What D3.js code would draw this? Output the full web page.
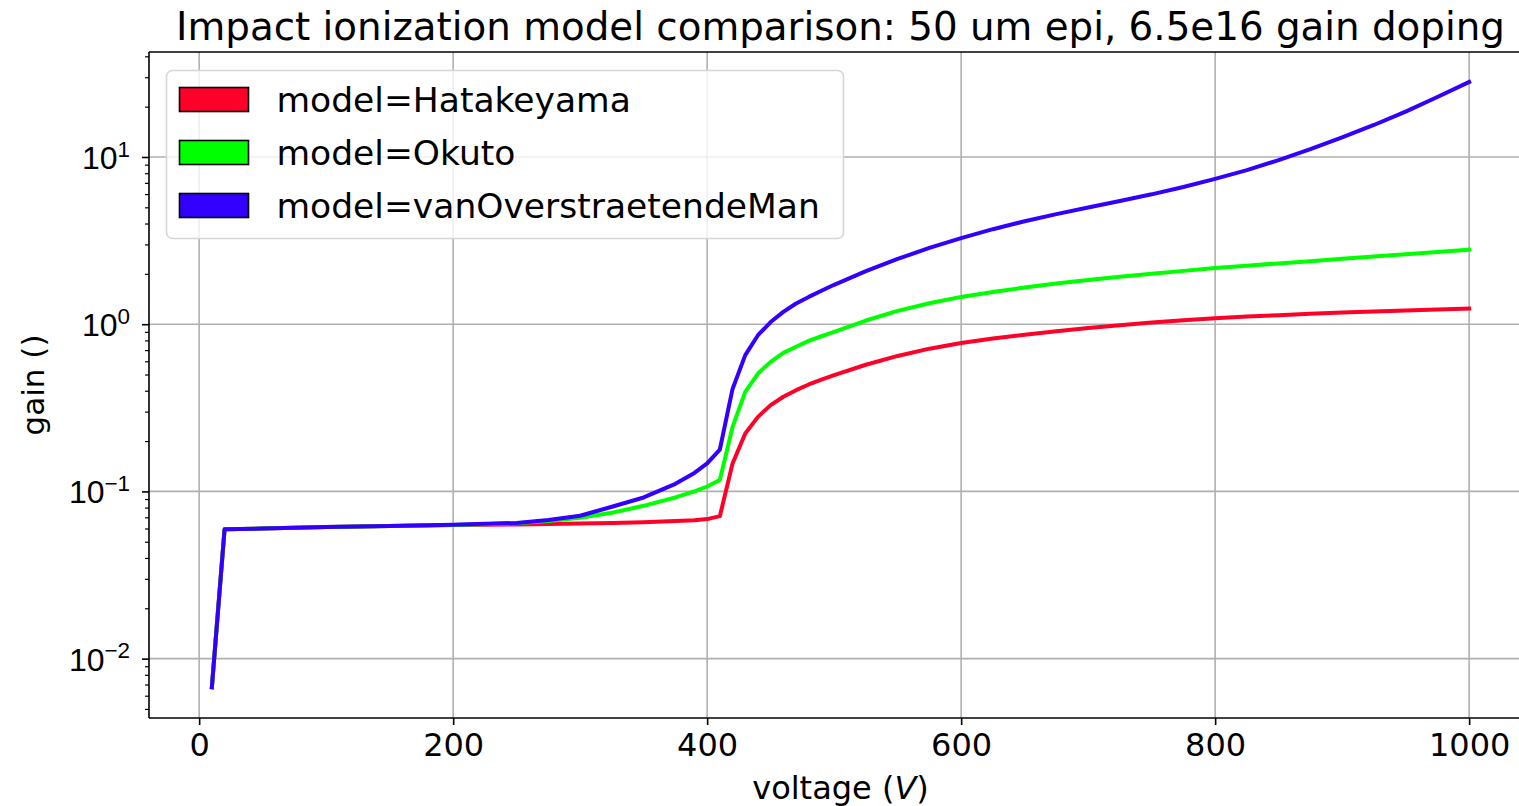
<!DOCTYPE html>
<html>
<head>
<meta charset="utf-8">
<script src="https://cdn.jsdelivr.net/npm/d3@7"></script>
<style>
  html, body { margin: 0; padding: 0; background: #fff; }
  svg { display: block; font-family: "DejaVu Sans", sans-serif; }
</style>
</head>
<body>
<svg id="chart" width="1519" height="806"></svg>
<script>
// Bias voltage sweep (V)
const voltage = [10, 20, 50, 100, 150, 200, 250, 275, 300, 325, 350, 375, 390, 400, 410,
  420, 430, 440, 450, 460, 470, 480, 490, 500, 525, 550, 575, 600, 625, 650, 675, 700,
  725, 750, 775, 800, 825, 850, 875, 900, 925, 950, 975, 1000];

// Gain per impact ionization model
const gainHatakeyama = [0.00674, 0.0593, 0.0600, 0.0612, 0.0620, 0.0629,
  0.0635, 0.0638, 0.0642, 0.0648, 0.0655, 0.0665, 0.0672, 0.0683, 0.0711,
  0.147, 0.222, 0.279, 0.328, 0.368, 0.403, 0.436, 0.466, 0.496,
  0.572, 0.646, 0.714, 0.772, 0.820, 0.865, 0.908, 0.949,
  0.987, 1.022, 1.055, 1.085, 1.110, 1.133, 1.154, 1.174, 1.192, 1.209, 1.226, 1.242];
const gainOkuto = [0.00674, 0.0593, 0.0600, 0.0612, 0.0620, 0.0630,
  0.0645, 0.0665, 0.0695, 0.0745, 0.0820, 0.0920, 0.100, 0.107, 0.117,
  0.243, 0.394, 0.507, 0.595, 0.674, 0.733, 0.795, 0.847, 0.900,
  1.052, 1.202, 1.334, 1.456, 1.56, 1.656, 1.75, 1.84,
  1.923, 2.005, 2.084, 2.168, 2.239, 2.31, 2.38, 2.46, 2.54, 2.62, 2.70, 2.79];
const gainVanOverstraeten = [0.00674, 0.0593, 0.0600, 0.0612, 0.0620, 0.0632,
  0.0648, 0.0675, 0.0715, 0.0810, 0.0920, 0.111, 0.129, 0.147, 0.178,
  0.41, 0.653, 0.859, 1.03, 1.185, 1.33, 1.456, 1.585, 1.72,
  2.075, 2.455, 2.858, 3.273, 3.70, 4.13, 4.55, 4.99,
  5.46, 5.98, 6.62, 7.40, 8.35, 9.58, 11.13, 13.08, 15.54, 18.69, 22.86, 28.1];

const seriesNames = ["model=Hatakeyama", "model=Okuto", "model=vanOverstraetendeMan"];
const seriesColors = ["#ff0029", "#00ff00", "#3300ff"];
const seriesValues = [gainHatakeyama, gainOkuto, gainVanOverstraeten];

const xTicks = [0, 200, 400, 600, 800, 1000];
const yDecades = [-2, -1, 0, 1];

const titleText = "Impact ionization model comparison: 50 um epi, 6.5e16 gain doping";
const xLabel = "voltage (";
const yLabel = "gain ()";

// Layout and type sizes
const FS_TICK = 32;
const FS_TITLE = 38.8;
const FS_LEGEND = 34.5;
const FS_LABEL = 32;
const plot = { left: 149, top: 52, right: 1532, bottom: 718 };

const svg = d3.select("#chart");

const x = d3.scaleLinear().domain([-39.5, 1049.5]).range([plot.left, plot.right]);
const y = d3.scaleLog().domain([0.004414, 42.45]).range([plot.bottom, plot.top]);

const g = svg.append("g");

// Grid lines
const gridG = g.append("g").attr("class", "grid");
gridG.selectAll("line.vx").data(xTicks).join("line")
  .attr("x1", d => x(d)).attr("x2", d => x(d))
  .attr("y1", plot.top).attr("y2", plot.bottom)
  .attr("stroke", "#b0b0b0").attr("stroke-width", 1.6);
gridG.selectAll("line.hy").data(yDecades).join("line")
  .attr("x1", plot.left).attr("x2", plot.right)
  .attr("y1", d => y(Math.pow(10, d))).attr("y2", d => y(Math.pow(10, d)))
  .attr("stroke", "#b0b0b0").attr("stroke-width", 1.6);

// Data lines
const line = d3.line().x((d, i) => x(voltage[i])).y(d => y(d));
seriesValues.forEach((vals, k) => {
  g.append("path")
    .datum(vals)
    .attr("d", line)
    .attr("fill", "none")
    .attr("stroke", seriesColors[k])
    .attr("stroke-width", 4)
    .attr("stroke-linejoin", "round")
    .attr("stroke-linecap", "square");
});

// X axis
const xAxis = d3.axisBottom(x).tickValues(xTicks).tickSize(7).tickPadding(8).tickFormat(d3.format("d"));
const xg = g.append("g").attr("transform", `translate(0,${plot.bottom})`).call(xAxis);
xg.select(".domain").remove();
xg.selectAll(".tick line").attr("stroke", "#000").attr("stroke-width", 1.6);
xg.selectAll(".tick text").attr("font-size", FS_TICK).attr("fill", "#000")
  .attr("font-family", "DejaVu Sans").attr("dy", "0.71em");

// Y axis with minor ticks
const minorVals = [];
for (let e = -3; e <= 1; e++) {
  for (let m = 2; m <= 9; m++) {
    const v = m * Math.pow(10, e);
    if (v >= y.domain()[0] && v <= y.domain()[1]) minorVals.push(v);
  }
}
const yMinor = d3.axisLeft(y).tickValues(minorVals).tickSize(4).tickFormat("");
const ymg = g.append("g").attr("transform", `translate(${plot.left},0)`).call(yMinor);
ymg.select(".domain").remove();
ymg.selectAll(".tick line").attr("stroke", "#000").attr("stroke-width", 1.2);

const yMajor = d3.axisLeft(y).tickValues(yDecades.map(d => Math.pow(10, d))).tickSize(7).tickFormat("");
const yg = g.append("g").attr("transform", `translate(${plot.left},0)`).call(yMajor);
yg.select(".domain").remove();
yg.selectAll(".tick line").attr("stroke", "#000").attr("stroke-width", 1.6);
yg.selectAll(".tick").each(function(d) {
  const e = Math.round(Math.log10(d));
  const t = d3.select(this).append("text")
    .attr("x", -19).attr("y", 0).attr("dy", "0.36em")
    .attr("text-anchor", "end").attr("font-size", FS_TICK).attr("fill", "#000");
  t.append("tspan").text("10");
  t.append("tspan").attr("font-size", FS_TICK * 0.7).attr("dy", "-0.55em")
    .text(e < 0 ? "\u2212" + Math.abs(e) : String(e));
});

// Spines
g.append("line").attr("x1", plot.left).attr("x2", plot.left).attr("y1", plot.top).attr("y2", plot.bottom)
  .attr("stroke", "#000").attr("stroke-width", 1.6);
g.append("line").attr("x1", plot.left).attr("x2", plot.right).attr("y1", plot.bottom).attr("y2", plot.bottom)
  .attr("stroke", "#000").attr("stroke-width", 1.6);
g.append("line").attr("x1", plot.left).attr("x2", plot.right).attr("y1", plot.top).attr("y2", plot.top)
  .attr("stroke", "#000").attr("stroke-width", 1.6);

// Title and axis labels
svg.append("text").attr("x", (plot.left + plot.right) / 2).attr("y", 40)
  .attr("text-anchor", "middle").attr("font-size", FS_TITLE).attr("fill", "#000").text(titleText);

const xl = svg.append("text").attr("x", (plot.left + plot.right) / 2).attr("y", 799)
  .attr("text-anchor", "middle").attr("font-size", FS_LABEL).attr("fill", "#000");
xl.append("tspan").text(xLabel);
xl.append("tspan").attr("font-style", "italic").text("V");
xl.append("tspan").text(")");

svg.append("text").attr("transform", `translate(44,${(plot.top + plot.bottom) / 2}) rotate(-90)`)
  .attr("text-anchor", "middle").attr("font-size", 31).attr("fill", "#000").text(yLabel);

// Legend
const lg = svg.append("g").attr("transform", "translate(166.5,70.5)");
lg.append("rect").attr("width", 677).attr("height", 168).attr("rx", 6).attr("ry", 6)
  .attr("fill", "#fff").attr("fill-opacity", 0.8).attr("stroke", "#d6d6d6").attr("stroke-width", 1.6);
seriesNames.forEach((name, k) => {
  const row = lg.append("g").attr("transform", `translate(0,${29 + k * 53})`);
  row.append("rect").attr("x", 13).attr("y", -12).attr("width", 69).attr("height", 24)
    .attr("fill", seriesColors[k]).attr("stroke", "#000").attr("stroke-width", 1.6);
  row.append("text").attr("x", 110).attr("y", 0).attr("dy", "0.36em")
    .attr("font-size", FS_LEGEND).attr("fill", "#000").text(name);
});
</script>
</body>
</html>
